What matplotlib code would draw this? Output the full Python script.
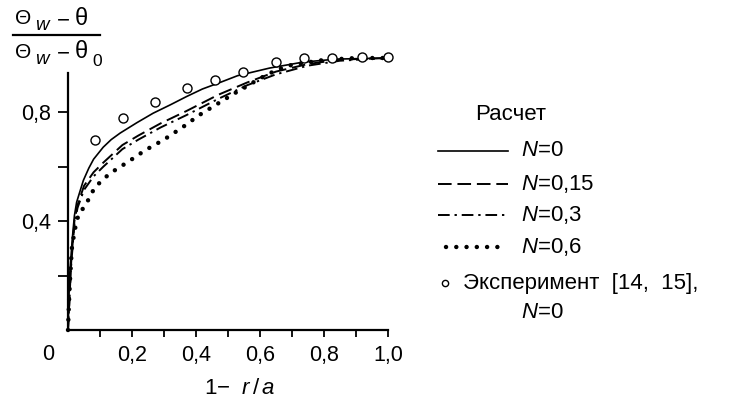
import matplotlib
matplotlib.use("Agg")
import matplotlib.pyplot as plt
from matplotlib.lines import Line2D
import numpy as np

plt.rcParams['font.family'] = ['Liberation Sans', 'DejaVu Sans']
plt.rcParams['mathtext.fontset'] = 'custom'
plt.rcParams['mathtext.rm'] = 'Liberation Sans'
plt.rcParams['mathtext.it'] = 'Liberation Sans:italic'
plt.rcParams['mathtext.bf'] = 'Liberation Sans:bold'

# ---- data ----
x_n0 = [0, 0.005, 0.013, 0.02, 0.027, 0.048, 0.065, 0.08, 0.11, 0.135, 0.163, 0.215, 0.266,
        0.32, 0.37, 0.42, 0.475, 0.53, 0.63, 0.735, 0.84, 1.0]
y_n0 = [0, 0.2, 0.33, 0.42, 0.47, 0.55, 0.595, 0.628, 0.672, 0.7, 0.724, 0.762, 0.797,
        0.828, 0.858, 0.886, 0.91, 0.935, 0.963, 0.985, 0.996, 1.0]

x_n015 = [0, 0.01, 0.02, 0.03, 0.05, 0.08, 0.11, 0.17, 0.22, 0.29, 0.37,
          0.47, 0.56, 0.65, 0.75, 0.85, 1.0]
y_n015 = [0, 0.25, 0.4, 0.46, 0.53, 0.58, 0.615, 0.68, 0.715, 0.76, 0.805,
          0.865, 0.91, 0.95, 0.978, 0.994, 1.0]

x_n03 = [0, 0.01, 0.02, 0.03, 0.05, 0.08, 0.11, 0.17, 0.22, 0.29, 0.37,
         0.47, 0.56, 0.65, 0.75, 0.85, 1.0]
y_n03 = [0, 0.24, 0.39, 0.45, 0.515, 0.565, 0.6, 0.665, 0.70, 0.745, 0.79,
         0.85, 0.9, 0.94, 0.972, 0.99, 1.0]

x_n06 = [0, 0.003, 0.007, 0.012, 0.02, 0.027, 0.035, 0.053, 0.084, 0.13, 0.19,
         0.24, 0.3, 0.36, 0.41, 0.465, 0.52, 0.55, 0.6, 0.65, 0.7, 0.8, 0.9, 1.0]
y_n06 = [0, 0.1, 0.2, 0.3, 0.36, 0.4, 0.43, 0.455, 0.525, 0.575, 0.62,
         0.66, 0.70, 0.747, 0.79, 0.83, 0.87, 0.89, 0.925, 0.955, 0.975, 0.993, 1.0, 1.0]

x_exp = [0.084, 0.172, 0.272, 0.372, 0.46, 0.547, 0.65, 0.738, 0.825, 0.92, 1.0]
y_exp = [0.70, 0.78, 0.84, 0.89, 0.92, 0.95, 0.985, 1.0, 1.0, 1.005, 1.005]

x_major = [0.2, 0.4, 0.6, 0.8, 1.0]
x_major_labels = ['0,2', '0,4', '0,6', '0,8', '1,0']
x_minor = [0.1, 0.3, 0.5, 0.7, 0.9]
y_ticks = [0.2, 0.4, 0.6, 0.8]
y_tick_labels = ['', '0,4', '', '0,8']

legend_title = 'Расчет'
legend_labels = ['$\\mathit{N}$=0', '$\\mathit{N}$=0,15', '$\\mathit{N}$=0,3', '$\\mathit{N}$=0,6']
exp_label_1 = 'Эксперимент  [14,  15],'
exp_label_2 = '$\\mathit{N}$=0'

W, H = 730, 399
fig = plt.figure(figsize=(W / 100, H / 100), dpi=100)
ax = fig.add_axes([68 / W, (H - 330) / H, 320 / W, 1.05 * 272 / H])

styles = [
    dict(color='black', lw=1.2, linestyle='-'),
    dict(color='black', lw=1.4, linestyle=(0, (7, 3))),
    dict(color='black', lw=1.4, linestyle=(0, (6, 2.5, 1.2, 2.5))),
    dict(color='black', lw=3.2, linestyle=(0, (0.01, 2.3)), dash_capstyle='round'),
]
series = [(x_n0, y_n0), (x_n015, y_n015), (x_n03, y_n03), (x_n06, y_n06)]
for (xs, ys), st in zip(series, styles):
    ax.plot(xs, ys, clip_on=False, **st)

ax.plot(x_exp, y_exp, linestyle='none', marker='o', markersize=6.5,
        markerfacecolor='white', markeredgecolor='black', markeredgewidth=1.0,
        clip_on=False, zorder=5)

ax.set_xlim(0, 1.0)
ax.set_ylim(0, 1.05)
for s in ['top', 'right']:
    ax.spines[s].set_visible(False)
ax.spines['left'].set_bounds(0, 0.945)
ax.spines['left'].set_linewidth(1.6)
ax.spines['bottom'].set_linewidth(1.6)

ax.set_xticks(x_major)
ax.set_xticklabels(x_major_labels)
ax.set_xticks(x_minor, minor=True)
ax.tick_params(axis='x', which='both', direction='out', length=5, width=1.3,
               labelsize=15.5, pad=6)
ax.set_yticks(y_ticks)
ax.set_yticklabels(y_tick_labels)
ax.tick_params(axis='y', direction='out', length=7.5, width=1.3, labelsize=15.5, pad=5)

# origin label
fig.text(48 / W, 1 - 355 / H, '0', fontsize=15.5, ha='center', va='center')

# x label
fig.text(240 / W, 1 - 388 / H, '1$-$  $\\mathit{r\\,/\\,a}$', fontsize=16, ha='center', va='center')

# y label as a fraction (built from pieces)
def frac_row(yc, with_zero):
    fig.text(15 / W, 1 - yc / H, 'Θ', fontsize=15, ha='left', va='center')
    fig.text(35 / W, 1 - (yc + 7) / H, 'w', fontsize=13.5, style='italic', ha='left', va='center')
    fig.text(57 / W, 1 - (yc + 2) / H, '−', fontsize=16, ha='left', va='center')
    fig.text(75 / W, 1 - yc / H, 'θ', fontsize=17, ha='left', va='center')
    if with_zero:
        fig.text(92 / W, 1 - (yc + 10) / H, '0', fontsize=12.5, ha='left', va='center')

frac_row(19, False)
frac_row(52, True)
fig.add_artist(Line2D([13 / W, 100 / W], [1 - 35 / H, 1 - 35 / H], color='black', lw=1.6,
                      transform=fig.transFigure))

# legend (drawn by hand)
fig.text(475 / W, 1 - 115 / H, legend_title, fontsize=16, ha='left', va='center')
rows_y = [151, 184, 215, 247]
for yy, st, lab in zip(rows_y, styles, legend_labels):
    if st['lw'] > 2:
        xs = [446 / W, 502 / W]
    else:
        xs = [438 / W, 508 / W]
    fig.add_artist(Line2D(xs, [1 - yy / H] * 2, transform=fig.transFigure, **st))
    fig.text(521 / W, 1 - yy / H, lab, fontsize=16, ha='left', va='center')
fig.add_artist(Line2D([445 / W], [1 - 283 / H], transform=fig.transFigure, linestyle='none',
                      marker='o', markersize=4.5, markerfacecolor='white',
                      markeredgecolor='black', markeredgewidth=1.0))
fig.text(463 / W, 1 - 283 / H, exp_label_1, fontsize=16, ha='left', va='center')
fig.text(521 / W, 1 - 312 / H, exp_label_2, fontsize=16, ha='left', va='center')

fig.savefig('out.png', dpi=100)
